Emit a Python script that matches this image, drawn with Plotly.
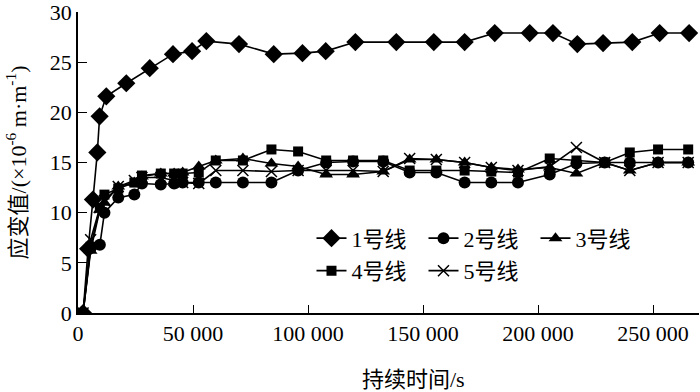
import plotly.graph_objects as go

# ---- data ----
x1 = [2200, 4400, 6500, 8400, 9400, 12300, 21000, 31200, 41300, 49600, 55800, 70000,
      85100, 97600, 107700, 120600, 138400, 154700, 168100, 181200, 196400, 206500,
      217100, 228300, 241000, 252900, 265700]
y1 = [0, 6.4, 11.3, 16.0, 19.6, 21.6, 22.9, 24.4, 25.8, 26.1, 27.1, 26.8,
      25.8, 25.9, 26.1, 27.0, 27.0, 27.0, 27.0, 27.9, 27.9, 27.9,
      26.8, 26.9, 27.0, 27.9, 27.9]

x_common = [2200, 5500, 9500, 11500, 17500, 24500, 27800, 36000, 41800, 45500, 52500,
            59900, 71700, 84100, 95700, 107900, 119600, 132700, 144200, 155800, 168100,
            179700, 191300, 205100, 216700, 229000, 239900, 252200, 265300]
y2 = [0, 6.5, 6.8, 10.0, 11.5, 11.8, 12.9, 12.8, 12.9, 13.0, 13.0, 13.0, 13.0, 13.0,
      14.2, 15.0, 15.1, 15.1, 14.0, 14.0, 13.0, 13.0, 13.0, 13.8, 14.9, 15.0, 15.0, 15.0, 15.0]
y3 = [0, 6.2, 10.3, 11.0, 12.6, 13.0, 13.6, 13.9, 13.9, 14.0, 14.6, 15.2, 15.4, 14.9,
      14.6, 13.8, 13.8, 14.1, 15.3, 15.3, 15.0, 14.5, 14.3, 14.5, 13.9, 15.0, 14.2, 15.0, 15.0]
y4 = [0, 6.6, 10.5, 11.8, 12.4, 13.0, 13.7, 13.9, 13.9, 13.9, 14.0, 15.2, 15.2, 16.3,
      16.1, 15.2, 15.2, 15.2, 14.2, 14.2, 14.2, 14.1, 14.0, 15.4, 15.2, 15.0, 16.0, 16.3, 16.3]
y5 = [0, 7.3, 10.5, 11.2, 12.6, 13.2, 13.5, 13.5, 13.2, 13.0, 12.9, 14.2, 14.2, 14.1,
      14.2, 14.2, 14.2, 14.1, 15.4, 15.3, 15.0, 14.5, 14.2, 14.6, 16.5, 15.0, 14.2, 15.0, 15.0]

names = ["1号线", "2号线", "3号线", "4号线", "5号线"]
x_tickvals = [0, 50000, 100000, 150000, 200000, 250000]
x_ticktext = ["0", "50 000", "100 000", "150 000", "200 000", "250 000"]
y_tickvals = [0, 5, 10, 15, 20, 25, 30]

FONT = '"Liberation Serif", "Times New Roman", "Noto Sans CJK SC", serif'

fig = go.Figure()
line = dict(color="black", width=1.6)
fig.add_trace(go.Scatter(x=x1, y=y1, name=names[0], mode="lines+markers", line=line,
                         marker=dict(symbol="diamond", size=14, color="black"), legend="legend"))
fig.add_trace(go.Scatter(x=x_common, y=y2, name=names[1], mode="lines+markers", line=line,
                         marker=dict(symbol="circle", size=12, color="black"), legend="legend"))
fig.add_trace(go.Scatter(x=x_common, y=y3, name=names[2], mode="lines+markers", line=line,
                         marker=dict(symbol="triangle-up", size=12, color="black"), legend="legend"))
fig.add_trace(go.Scatter(x=x_common, y=y4, name=names[3], mode="lines+markers", line=line,
                         marker=dict(symbol="square", size=10, color="black"), legend="legend2"))
fig.add_trace(go.Scatter(x=x_common, y=y5, name=names[4], mode="lines+markers", line=line,
                         marker=dict(symbol="x-thin", size=11, color="black",
                                     line=dict(color="black", width=1.5)), legend="legend2"))

legend_common = dict(orientation="h", xanchor="left", yanchor="middle",
                     font=dict(family=FONT, size=22, color="black"),
                     bgcolor="rgba(0,0,0,0)", entrywidth=67, entrywidthmode="pixels",
                     tracegroupgap=0, itemclick=False)

fig.update_layout(
    width=700, height=392, autosize=False,
    margin=dict(l=78, r=1, t=12, b=79, pad=0),
    paper_bgcolor="white", plot_bgcolor="white",
    font=dict(family=FONT, size=22, color="black"),
    legend=dict(x=0.376, y=0.248, **legend_common),
    legend2=dict(x=0.376, y=0.14, **legend_common),
    showlegend=True,
    xaxis=dict(range=[0, 270000], tickvals=x_tickvals, ticktext=x_ticktext,
               ticks="inside", ticklen=8, tickwidth=1.3, tickcolor="black",
               showline=True, linecolor="black", linewidth=1.6, showgrid=False,
               zeroline=False, automargin=False, ticklabeloverflow="allow",
               tickfont=dict(family=FONT, size=22, color="black")),
    yaxis=dict(range=[0, 30], tickvals=y_tickvals,
               ticks="inside", ticklen=9, tickwidth=1.3, tickcolor="black",
               showline=True, linecolor="black", linewidth=1.6, showgrid=False,
               zeroline=False, automargin=False, ticklabeloverflow="allow",
               tickfont=dict(family=FONT, size=22, color="black")),
    annotations=[
        dict(text="持续时间/s", xref="paper", yref="paper", x=0.54, y=-0.22,
             xanchor="center", yanchor="middle", showarrow=False,
             font=dict(family=FONT, size=22, color="black")),
        dict(text="应变值/(×10<sup>-6</sup> m·m<sup>-1</sup>)", xref="paper", yref="paper",
             x=-0.1, y=0.5, xanchor="center", yanchor="middle", textangle=-90,
             showarrow=False, font=dict(family=FONT, size=22, color="black")),
    ],
)

fig.write_html("out.html", config={"displayModeBar": False},
               post_script="document.body.style.margin='0';document.body.style.overflow='hidden';")
